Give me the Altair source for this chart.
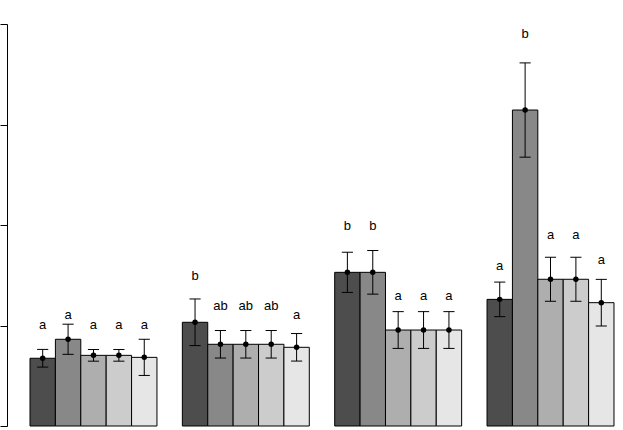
import altair as alt
import pandas as pd

groups = ["G1", "G2", "G3", "G4"]
treatments = ["T1", "T2", "T3", "T4", "T5"]
fills = ["#4D4D4D", "#888888", "#AEAEAE", "#CCCCCC", "#E6E6E6"]

means_g1 = [0.674, 0.863, 0.703, 0.703, 0.683]
means_g2 = [1.032, 0.813, 0.813, 0.813, 0.783]
means_g3 = [1.529, 1.529, 0.955, 0.955, 0.955]
means_g4 = [1.260, 3.144, 1.460, 1.460, 1.227]

se_g1 = [0.088, 0.150, 0.058, 0.058, 0.180]
se_g2 = [0.232, 0.137, 0.137, 0.137, 0.137]
se_g3 = [0.200, 0.217, 0.183, 0.183, 0.183]
se_g4 = [0.172, 0.469, 0.219, 0.219, 0.232]

letters_g1 = ["a", "a", "a", "a", "a"]
letters_g2 = ["b", "ab", "ab", "ab", "a"]
letters_g3 = ["b", "b", "a", "a", "a"]
letters_g4 = ["a", "b", "a", "a", "a"]

letter_y_g1 = [0.965, 1.065, 0.965, 0.965, 0.965]
letter_y_g2 = [1.453, 1.154, 1.154, 1.154, 1.060]
letter_y_g3 = [1.953, 1.953, 1.254, 1.254, 1.254]
letter_y_g4 = [1.552, 3.861, 1.861, 1.861, 1.612]

y_ticks = [0, 1, 2, 3, 4]

means = [means_g1, means_g2, means_g3, means_g4]
ses = [se_g1, se_g2, se_g3, se_g4]
letters = [letters_g1, letters_g2, letters_g3, letters_g4]
letter_ys = [letter_y_g1, letter_y_g2, letter_y_g3, letter_y_g4]

rows = []
for gi, g in enumerate(groups):
    for ti, t in enumerate(treatments):
        left = 1 + gi * 6 + ti
        m = means[gi][ti]
        s = ses[gi][ti]
        rows.append(dict(group=g, treatment=t, left=left, right=left + 1,
                         center=left + 0.5, capl=left + 0.5 - 0.22, capr=left + 0.5 + 0.22,
                         mean=m, lo=m - s, hi=m + s,
                         letter=letters[gi][ti], ly=letter_ys[gi][ti]))
df = pd.DataFrame(rows)

xs = alt.Scale(domain=[0.094, 24.355], nice=False, zero=False)
ys = alt.Scale(domain=[0, 4], nice=False, zero=False)

base = alt.Chart(df)

bars = base.mark_rect(stroke="black", strokeWidth=1).encode(
    x=alt.X("left:Q", scale=xs, axis=None),
    x2="right:Q",
    y=alt.Y("mean:Q", scale=ys,
            axis=alt.Axis(values=y_ticks, labels=False, title=None, grid=False,
                          tickSize=7, tickColor="black", domainColor="black",
                          tickWidth=1, domainWidth=1)),
    y2=alt.datum(0),
    fill=alt.Fill("treatment:N", scale=alt.Scale(domain=treatments, range=fills), legend=None),
)

err = base.mark_rule(color="black", strokeWidth=1).encode(
    x=alt.X("center:Q", scale=xs), y=alt.Y("lo:Q", scale=ys), y2="hi:Q")
cap_hi = base.mark_rule(color="black", strokeWidth=1).encode(
    x=alt.X("capl:Q", scale=xs), x2="capr:Q", y=alt.Y("hi:Q", scale=ys))
cap_lo = base.mark_rule(color="black", strokeWidth=1).encode(
    x=alt.X("capl:Q", scale=xs), x2="capr:Q", y=alt.Y("lo:Q", scale=ys))
dots = base.mark_point(filled=True, color="black", size=30, opacity=1).encode(
    x=alt.X("center:Q", scale=xs), y=alt.Y("mean:Q", scale=ys))
text = base.mark_text(font="Liberation Sans", fontSize=13, baseline="alphabetic",
                      align="center", color="black").encode(
    x=alt.X("center:Q", scale=xs), y=alt.Y("ly:Q", scale=ys), text="letter:N")

chart = alt.layer(bars, err, cap_hi, cap_lo, dots, text).properties(
    width=616, height=402,
    autosize=alt.AutoSizeParams(type="none"),
    padding={"left": 7, "top": 24, "right": 0, "bottom": 4},
    background="white",
).configure_view(stroke=None)

chart.save("out.html", embed_options={"renderer": "svg", "actions": False})
